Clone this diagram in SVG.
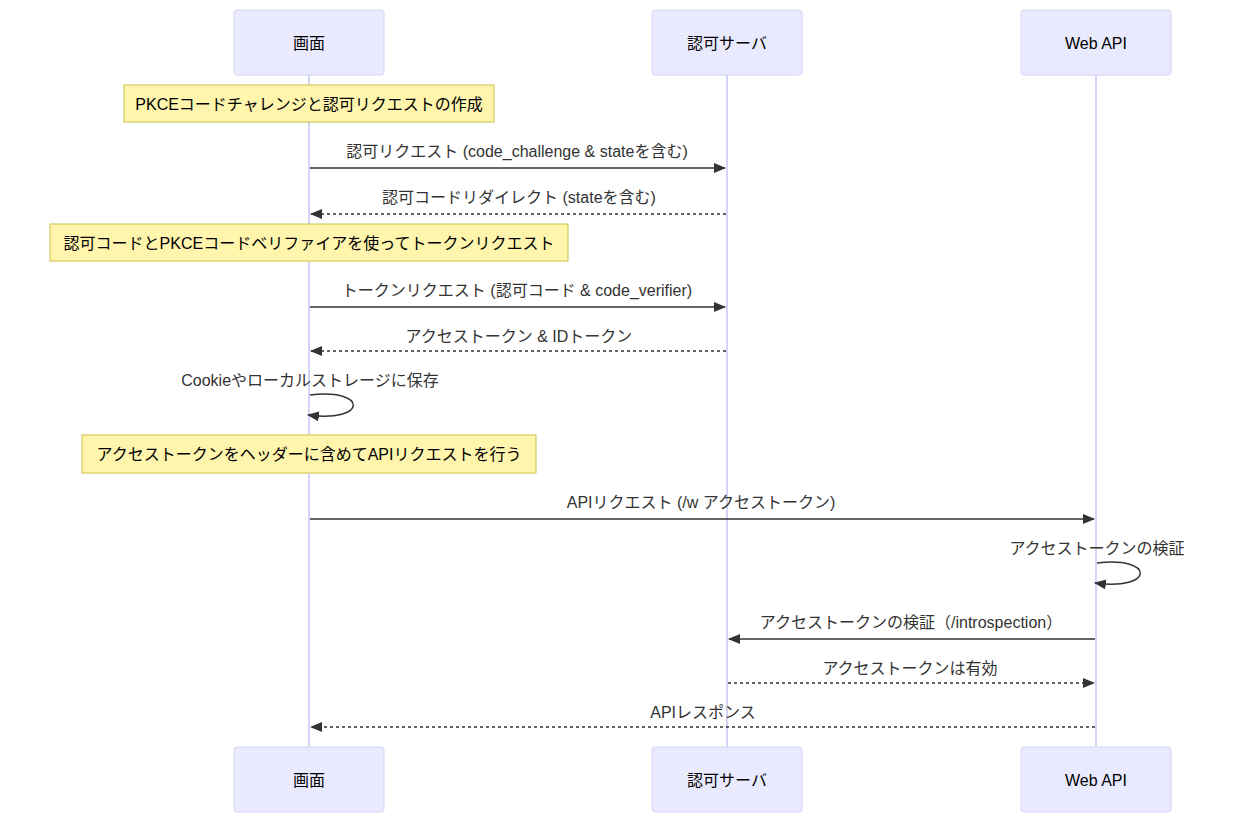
<svg xmlns="http://www.w3.org/2000/svg" width="1237" height="823" viewBox="0 0 1237 823">
<style>
.actor{fill:#eaeaff;stroke:#d4d4f7;stroke-width:1}
.life{stroke:#d4d4f7;stroke-width:2}
.note{fill:#fff5ad;stroke:#c9c14a;stroke-width:1}
text{font-family:"Liberation Sans","Noto Sans CJK JP",sans-serif;font-size:16px;text-anchor:middle}
.at{fill:#000}
.mt{fill:#333}
.nt{fill:#000}
.m{stroke:#333;stroke-width:1.5;fill:none;marker-end:url(#ah)}
.d{stroke-dasharray:3,3}
</style>
<defs>
<marker id="ah" viewBox="0 0 12 10" refX="11" refY="5" markerWidth="12" markerHeight="10" markerUnits="userSpaceOnUse" orient="auto"><path d="M0,0 L12,5 L0,10 z" fill="#333"/></marker>
</defs>
<g id="lifelines">
<line class="life" x1="309" y1="75" x2="309" y2="747"/>
<line class="life" x1="727" y1="75" x2="727" y2="747"/>
<line class="life" x1="1096" y1="75" x2="1096" y2="747"/>
</g>
<g id="screen"><rect class="actor" x="234" y="10" width="150" height="65" rx="3"/><text class="at" x="309" y="49">画面</text></g>
<g id="auth"><rect class="actor" x="652" y="10" width="150" height="65" rx="3"/><text class="at" x="727" y="49">認可サーバ</text></g>
<g id="api"><rect class="actor" x="1021" y="10" width="150" height="65" rx="3"/><text class="at" x="1096" y="49">Web API</text></g>
<g id="screen-b"><rect class="actor" x="234" y="747" width="150" height="65" rx="3"/><text class="at" x="309" y="786">画面</text></g>
<g id="auth-b"><rect class="actor" x="652" y="747" width="150" height="65" rx="3"/><text class="at" x="727" y="786">認可サーバ</text></g>
<g id="api-b"><rect class="actor" x="1021" y="747" width="150" height="65" rx="3"/><text class="at" x="1096" y="786">Web API</text></g>
<g id="note1"><rect class="note" x="124" y="85" width="370" height="37"/><text class="nt" x="309" y="110">PKCEコードチャレンジと認可リクエストの作成</text></g>
<g id="note2"><rect class="note" x="50" y="224" width="518" height="37"/><text class="nt" x="309" y="249">認可コードとPKCEコードベリファイアを使ってトークンリクエスト</text></g>
<g id="note3"><rect class="note" x="82" y="435" width="454" height="38"/><text class="nt" x="309" y="460">アクセストークンをヘッダーに含めてAPIリクエストを行う</text></g>
<g id="connectors">
<line class="m" x1="310" y1="168" x2="725" y2="168"/>
<line class="m d" x1="726" y1="214" x2="311" y2="214"/>
<line class="m" x1="310" y1="307" x2="725" y2="307"/>
<line class="m d" x1="726" y1="351" x2="311" y2="351"/>
<path class="m" d="M310,395 C368,388 368,423 308,415"/>
<line class="m" x1="310" y1="519" x2="1094" y2="519"/>
<path class="m" d="M1097,563 C1155,556 1155,591 1095,583"/>
<line class="m" x1="1095" y1="639" x2="729" y2="639"/>
<line class="m d" x1="728" y1="683" x2="1094" y2="683"/>
<line class="m d" x1="1095" y1="727" x2="311" y2="727"/>
</g>
<g id="labels">
<text class="mt" x="517" y="157">認可リクエスト (code_challenge &amp; stateを含む)</text>
<text class="mt" x="519" y="203">認可コードリダイレクト (stateを含む)</text>
<text class="mt" x="517" y="296">トークンリクエスト (認可コード &amp; code_verifier)</text>
<text class="mt" x="519" y="342">アクセストークン &amp; IDトークン</text>
<text class="mt" x="310" y="386">Cookieやローカルストレージに保存</text>
<text class="mt" x="701" y="508">APIリクエスト (/w アクセストークン)</text>
<text class="mt" x="1097" y="554">アクセストークンの検証</text>
<text class="mt" x="911" y="628">アクセストークンの検証（/introspection）</text>
<text class="mt" x="910" y="674">アクセストークンは有効</text>
<text class="mt" x="703" y="718">APIレスポンス</text>
</g>
</svg>
